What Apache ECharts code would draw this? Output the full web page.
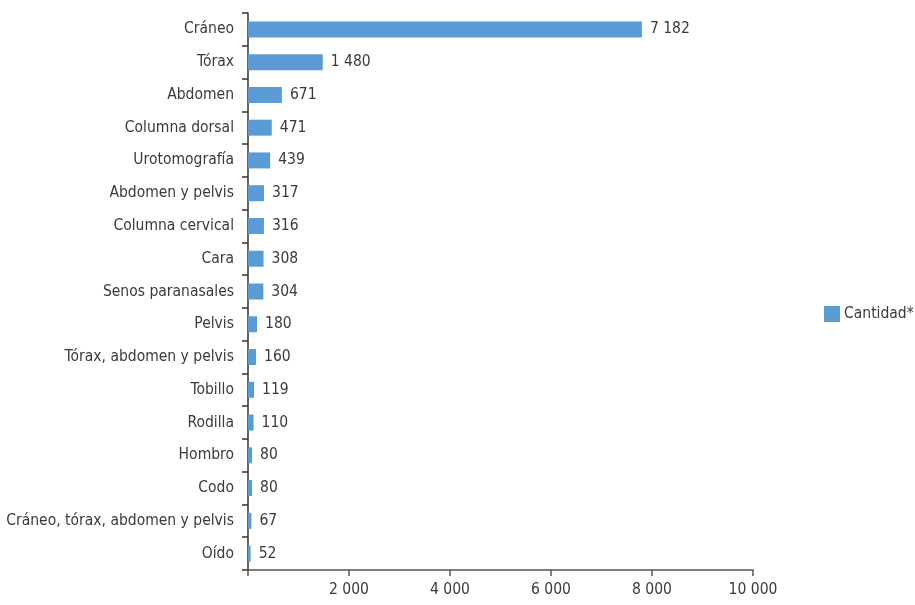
<!DOCTYPE html>
<html><head><meta charset="utf-8">
<script src="https://cdn.jsdelivr.net/npm/echarts@6/dist/echarts.min.js"></script>
<style>html,body{margin:0;padding:0;background:#fff}#c{width:915px;height:605px}</style>
</head><body><div id="c"></div>
<script>
const categories = ["Cráneo","Tórax","Abdomen","Columna dorsal","Urotomografía","Abdomen y pelvis","Columna cervical","Cara","Senos paranasales","Pelvis","Tórax, abdomen y pelvis","Tobillo","Rodilla","Hombro","Codo","Cráneo, tórax, abdomen y pelvis","Oído"];
// values as printed in the labels
const labelValues = [7182,1480,671,471,439,317,316,308,304,180,160,119,110,80,80,67,52];
// bar lengths as drawn (the Cráneo bar is drawn near 7 800 in the reference)
const barValues = [7800,1480,671,471,439,317,316,308,304,180,160,119,110,80,80,67,52];
const xTicks = {min:0, max:10000, interval:2000};
const seriesName = "Cantidad*";

const FONT = '"DejaVu Sans Condensed","Liberation Sans Narrow",sans-serif';
const FS = 15.5;
const TXT = '#3a3a3a';
const fmt = v => String(v).replace(/\B(?=(\d{3})+(?!\d))/g, ' ');

const chart = echarts.init(document.getElementById('c'), null, {renderer:'canvas'});
chart.setOption({
  animation:false,
  textStyle:{fontFamily:FONT},
  grid:{left:248, top:13, right:162, bottom:35, containLabel:false},
  legend:{
    data:[seriesName], orient:'vertical', left:819, top:301,
    itemWidth:16, itemHeight:16, itemGap:6,
    textStyle:{fontFamily:FONT, fontSize:FS, color:TXT, padding:[0,0,0,-1]},
    icon:'rect'
  },
  xAxis:{
    type:'value', min:xTicks.min, max:xTicks.max, interval:xTicks.interval,
    axisLine:{show:true, lineStyle:{color:'#555', width:1.5}},
    axisTick:{show:true, length:6, lineStyle:{color:'#555', width:1.5}},
    splitLine:{show:false},
    axisLabel:{fontFamily:FONT, fontSize:FS, color:TXT, margin:12,
      formatter:v => v===0 ? '' : fmt(v)}
  },
  yAxis:{
    type:'category', data:categories, inverse:true,
    axisLine:{show:true, lineStyle:{color:'#333', width:1.5}},
    axisTick:{show:true, length:6, lineStyle:{color:'#333', width:1.5}},
    axisLabel:{fontFamily:FONT, fontSize:FS, color:TXT, margin:14}
  },
  series:[{
    name:seriesName, type:'bar', data:barValues, barWidth:16,
    itemStyle:{color:'#5b9bd5'},
    label:{show:true, position:'right', distance:8, fontFamily:FONT, fontSize:FS, color:TXT,
      formatter:p => fmt(labelValues[p.dataIndex])}
  }]
});
</script></body></html>
